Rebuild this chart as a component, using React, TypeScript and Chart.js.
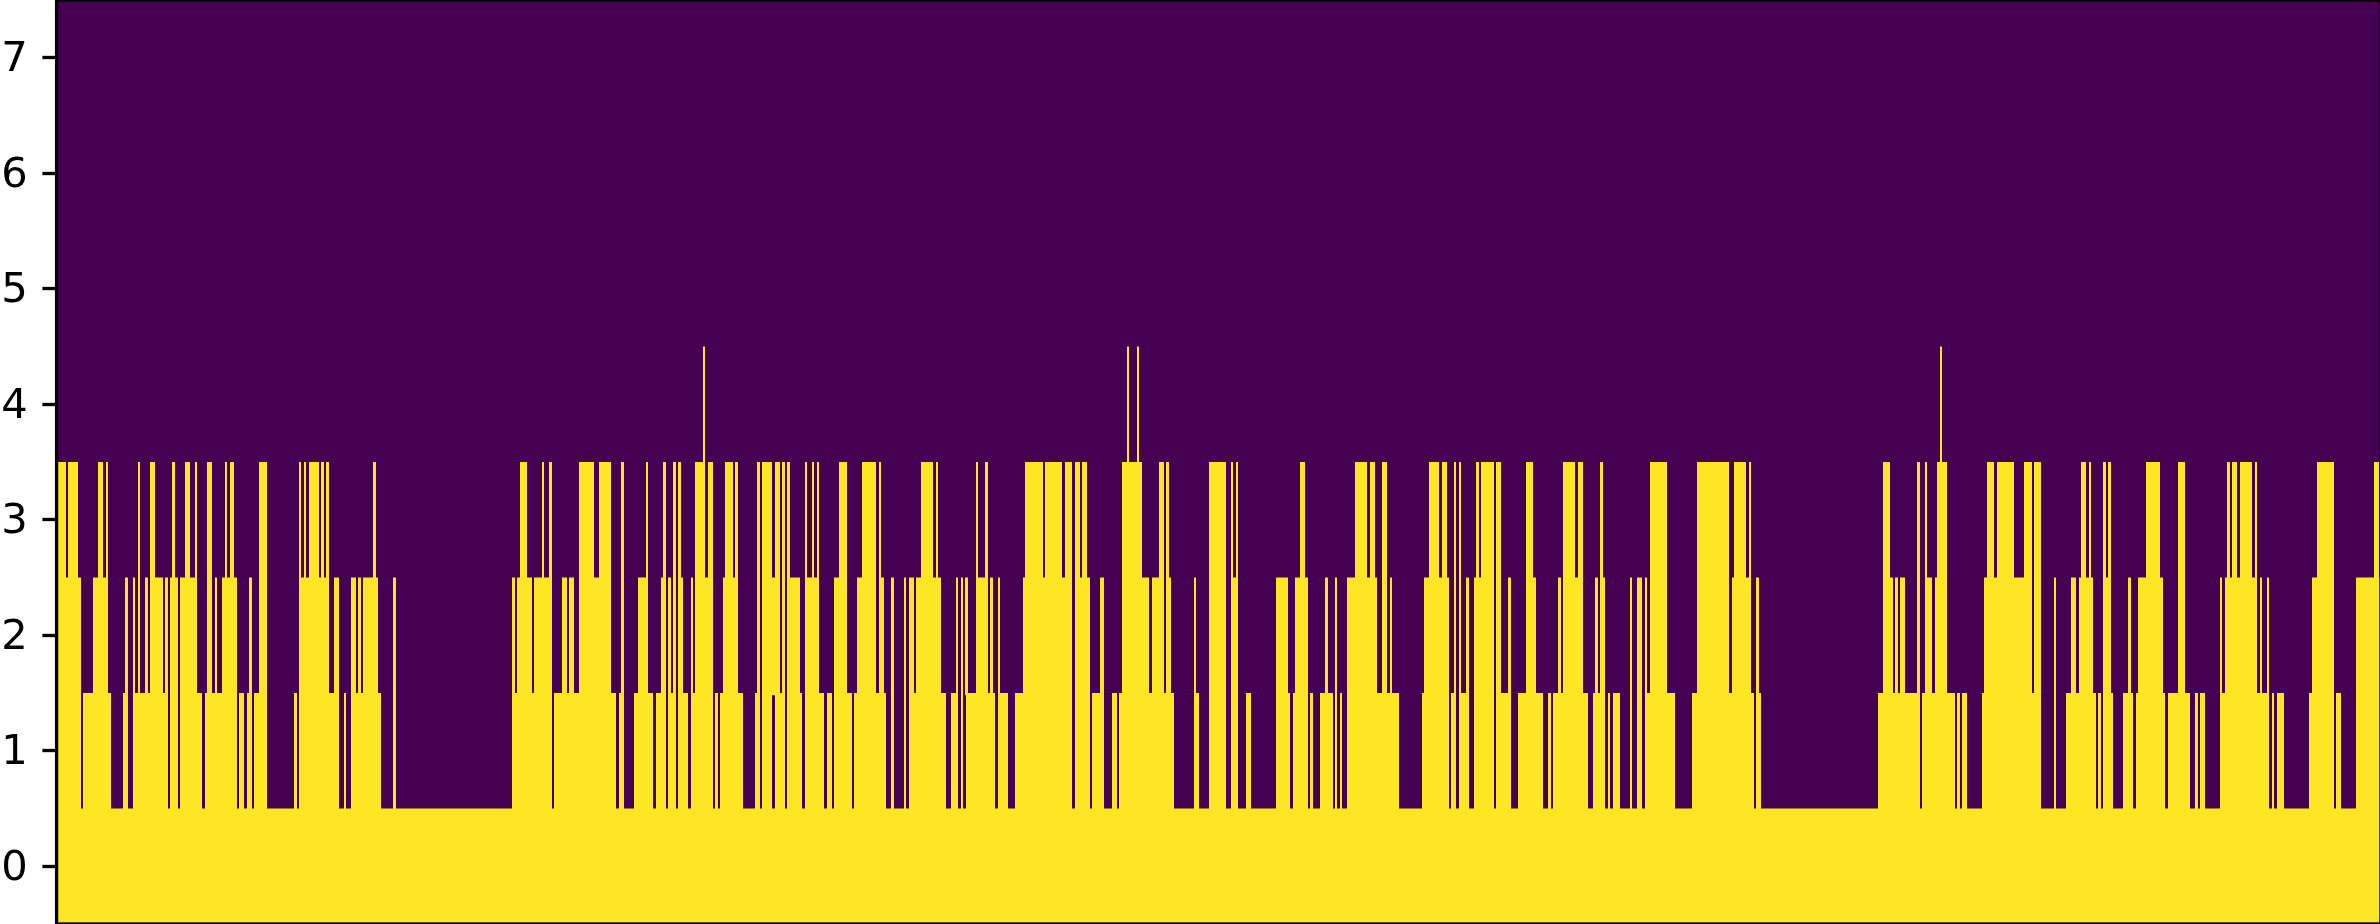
import React, { useEffect, useRef } from "react";
import { Chart, registerables } from "chart.js";

Chart.register(...registerables);

// Spans of "on" samples per row in four consecutive stretches.
// Each reading is a position within its stretch; stretchStart places it on the sample axis.
const stretchStart = [0, 600, 1200, 1780];
const readingsPerSample = 2.6133;
const sampleOrigin = 57;
const sampleCount = 2323;

const yTickValues = [0, 1, 2, 3, 4, 5, 6, 7];

const row1A = [[140,212],[217,290],[321,335],[348,440],[444,464],[470,528],[536,619],[625,638],[645,659],[664,698],[768,775],[781,886],[899,904],[917,996],[1027,1035],[1338,1443],[1448,1568]];
const row1B = [[0,42],[50,63],[89,139],[146,172],[178,199],[204,230],[238,295],[301,308],[314,374],[405,418],[423,449],[457,483],[489,528],[536,585],[593,606],[612,659],[664,747],[760,768],[794,800],[808,904],[917,936],[943,949],[957,1032],[1040,1066],[1085,1233],[1241,1281],[1286,1317],[1338,1351],[1356,1500],[1552,1566]];
const row1C = [[24,68],[81,99],[120,133],[199,235],[243,282],[287,295],[314,348],[353,358],[366,371],[384,520],[580,651],[656,669],[677,703],[716,768],[774,813],[831,896],[909,917],[923,1014],[1027,1058],[1066,1071],[1079,1098],[1124,1129],[1142,1155],[1163,1241],[1286,1448],[1453,1466]];
const row1D = [[256,366],[371,457],[463,470],[476,489],[528,682],[716,721],[747,826],[831,839],[844,870],[896,923],[930,1006],[1014,1071],[1085,1092],[1098,1111],[1150,1278],[1286,1291],[1299,1317],[1382,1448],[1453,1466],[1505,1580]];

const row2A = [[140,212],[243,282],[327,335],[348,353],[361,366],[379,387],[392,427],[432,440],[444,464],[470,515],[541,554],[562,567],[580,619],[651,659],[677,698],[781,860],[873,886],[917,930],[936,944],[949,988],[1027,1035],[1338,1346],[1351,1390],[1395,1442],[1469,1483],[1487,1500],[1513,1568]];
const row2B = [[0,29],[55,63],[99,125],[159,172],[178,186],[191,199],[204,217],[238,243],[248,295],[321,361],[410,418],[423,470],[476,483],[489,523],[536,572],[612,645],[672,721],[729,742],[760,768],[794,800],[808,821],[826,891],[930,936],[943,949],[955,962],[983,1014],[1019,1027],[1040,1045],[1105,1233],[1241,1281],[1307,1317],[1364,1435],[1443,1474],[1479,1492],[1552,1558]];
const row2C = [[24,68],[81,99],[199,230],[248,282],[327,335],[353,358],[384,463],[476,489],[497,502],[585,651],[664,669],[677,682],[695,703],[716,768],[774,787],[805,813],[852,878],[936,943],[949,1001],[1032,1040],[1045,1058],[1124,1129],[1142,1155],[1163,1168],[1176,1220],[1299,1382],[1390,1440],[1453,1461]];
const row2D = [[269,295],[301,308],[314,327],[358,366],[379,397],[405,436],[533,659],[664,682],[716,721],[760,774],[781,818],[844,865],[909,917],[936,1001],[1040,1058],[1150,1155],[1163,1247],[1254,1260],[1273,1278],[1390,1448],[1505,1580]];

const row3A = [[140,172],[178,204],[257,270],[277,282],[361,366],[392,405],[449,457],[484,497],[510,515],[541,554],[588,593],[601,612],[677,698],[781,787],[794,800],[808,834],[839,847],[852,860],[976,983],[1359,1377],[1416,1422],[1435,1442],[1513,1552],[1565,1568]];
const row3B = [[0,29],[55,63],[120,125],[165,172],[191,199],[204,212],[248,274],[282,295],[327,348],[353,361],[410,418],[423,449],[457,470],[476,483],[489,497],[536,541],[554,559],[567,572],[625,645],[685,721],[729,734],[839,870],[878,883],[983,988],[1006,1014],[1111,1158],[1163,1207],[1215,1233],[1241,1254],[1260,1273],[1364,1416],[1461,1474],[1479,1487]];
const row3C = [[24,68],[81,86],[94,99],[261,274],[405,436],[444,457],[476,489],[598,625],[632,645],[664,669],[677,682],[721,729],[734,768],[774,787],[852,870],[949,980],[988,1001],[1045,1053],[1176,1220],[1299,1382],[1396,1427],[1435,1440]];
const row3D = [[269,287],[358,366],[379,384],[410,436],[541,559],[567,612],[638,659],[664,682],[787,800],[808,813],[844,852],[857,865],[956,993],[1040,1058],[1168,1176],[1181,1194],[1202,1233],[1241,1247],[1403,1448],[1552,1565]];

const row4B = [[269,274],[1377,1382],[1403,1408]];
const row4D = [[418,423]];

const OFF_COLOR = "#440154";
const ON_COLOR = "#fde725";

function toSample(reading: number, stretch: number) {
  const s = Math.round(stretchStart[stretch] + reading / readingsPerSample - sampleOrigin);
  return Math.max(0, Math.min(sampleCount, s));
}

function joinStretches(parts: number[][][]) {
  const spans: [number, number][] = [];
  parts.forEach((part, i) => {
    const stretch = parts.length === 2 ? (i === 0 ? 1 : 3) : i;
    part.forEach(([a, b]) => spans.push([toSample(a, stretch), toSample(b, stretch)]));
  });
  return spans;
}

const rows: { row: number; spans: [number, number][] }[] = [
  { row: 0, spans: [[0, sampleCount]] },
  { row: 1, spans: joinStretches([row1A, row1B, row1C, row1D]) },
  { row: 2, spans: joinStretches([row2A, row2B, row2C, row2D]) },
  { row: 3, spans: joinStretches([row3A, row3B, row3C, row3D]) },
  { row: 4, spans: joinStretches([row4B, row4D]) },
];

function rowDataset(row: number, spans: [number, number][]) {
  // The floor sits a hair below the row so neighbouring rows leave no seam.
  const floor = row - 0.52;
  const high = row + 0.5;
  const data: { x: number; y: number }[] = [];
  spans.forEach(([a, b]) => {
    data.push({ x: a, y: high });
    data.push({ x: b, y: floor });
  });
  return {
    data,
    stepped: true,
    fill: { value: floor },
    backgroundColor: ON_COLOR,
    borderWidth: 0,
    pointRadius: 0,
    tension: 0,
  };
}

const framePlugin = {
  id: "frame",
  beforeDatasetsDraw(chart: any) {
    const { ctx, chartArea: a } = chart;
    ctx.save();
    ctx.fillStyle = OFF_COLOR;
    ctx.fillRect(a.left, a.top, a.right - a.left, a.bottom - a.top);
    ctx.restore();
  },
  afterDatasetsDraw(chart: any) {
    const { ctx, chartArea: a } = chart;
    ctx.save();
    ctx.strokeStyle = "#000000";
    ctx.lineWidth = 3.33;
    ctx.strokeRect(a.left - 0.4, a.top, a.right - a.left + 1.3, a.bottom - a.top);
    ctx.restore();
  },
};

export default function App() {
  const ref = useRef<HTMLCanvasElement>(null);
  useEffect(() => {
    document.body.style.margin = "0";
    document.body.style.background = "#ffffff";
    const chart = new Chart(ref.current!, {
      type: "line",
      data: { datasets: rows.map((r) => rowDataset(r.row, r.spans)) as any },
      plugins: [framePlugin],
      options: {
        animation: false,
        responsive: false,
        devicePixelRatio: 1,
        layout: { padding: 0 },
        plugins: { legend: { display: false }, tooltip: { enabled: false } },
        events: [],
        scales: {
          x: { type: "linear", display: false, min: 0, max: sampleCount },
          y: {
            type: "linear",
            min: -0.5,
            max: 7.5,
            afterFit(scale: any) {
              scale.width = sampleOrigin;
              scale.paddingTop = 0;
              scale.paddingBottom = 0;
            },
            afterBuildTicks(scale: any) {
              scale.ticks = yTickValues.map((value) => ({ value }));
            },
            border: { display: false },
            grid: {
              drawOnChartArea: false,
              drawTicks: true,
              tickLength: 14.6,
              tickColor: "#000000",
              tickWidth: 3.33,
            },
            ticks: {
              color: "#000000",
              padding: 14.6,
              labelOffset: 2.5,
              font: { family: "'DejaVu Sans'", size: 41.67 },
              callback: (v: any) => String(v),
            },
          },
        },
      } as any,
    });
    return () => chart.destroy();
  }, []);
  return <canvas ref={ref} width={2380} height={924} style={{ display: "block" }} />;
}
